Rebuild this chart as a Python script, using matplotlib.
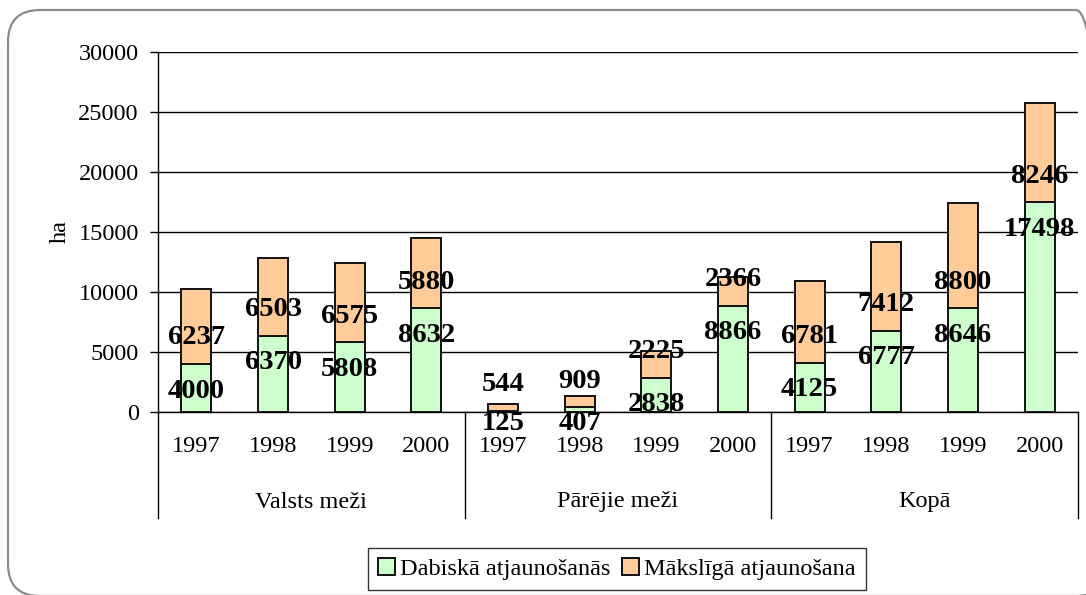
import numpy as np
import matplotlib
matplotlib.use('Agg')
import matplotlib.pyplot as plt
import matplotlib.patches as mpatches
from matplotlib.transforms import IdentityTransform, blended_transform_factory

# data
groups = ['Valsts meži', 'Pārējie meži', 'Kopā']
years = ['1997', '1998', '1999', '2000']
dabiska = [4000, 6370, 5808, 8632, 125, 407, 2838, 8866, 4125, 6777, 8646, 17498]
makslīga = [6237, 6503, 6575, 5880, 544, 909, 2225, 2366, 6781, 7412, 8800, 8246]
series_names = ['Dabiskā atjaunošanās', 'Mākslīgā atjaunošana']
colors = ['#CCFFCC', '#FFCC99']

plt.rcParams['font.family'] = ['Liberation Serif', 'DejaVu Serif']

W, H = 1086, 595
FS = 17.5      # axis / legend text
FS_LAB = 20.5  # bold value labels

fig = plt.figure(figsize=(W / 100, H / 100), dpi=100)
ax = fig.add_axes([158 / W, (H - 412) / H, 920 / W, 360 / H])

x = np.arange(len(dabiska))
bw = 0.39
ax.bar(x, dabiska, width=bw, color=colors[0], edgecolor='#111111', linewidth=1.4,
       label=series_names[0], zorder=3)
ax.bar(x, makslīga, width=bw, bottom=dabiska, color=colors[1], edgecolor='#111111',
       linewidth=1.4, label=series_names[1], zorder=3)

ax.set_xlim(-0.5, len(x) - 0.5)
ax.set_ylim(0, 30000)
ax.set_yticks(np.arange(0, 30001, 5000))
ax.tick_params(axis='y', direction='out', length=5.8, width=1, pad=8, labelsize=FS)
ax.set_xticks([])
ax.grid(axis='y', color='black', linewidth=1, zorder=0)
ax.set_axisbelow(True)
for s in ['top', 'right']:
    ax.spines[s].set_visible(False)
ax.spines['left'].set_linewidth(1)
ax.spines['bottom'].set_linewidth(1)

# value labels, placed relative to the boundary between the two segments
px_per_unit = 360 / 30000
for i in x:
    g = dabiska[i]
    gpx = g * px_per_unit
    off_g = -min(27, gpx + 11)
    ax.annotate(str(dabiska[i]), (i, g), xytext=(0, off_g * 0.72), textcoords='offset points',
                ha='center', va='center', fontsize=FS_LAB, fontweight='bold', zorder=5,
                annotation_clip=False)
    ax.annotate(str(makslīga[i]), (i, g), xytext=(0, 26 * 0.72), textcoords='offset points',
                ha='center', va='center', fontsize=FS_LAB, fontweight='bold', zorder=5,
                annotation_clip=False)

# category axis: years, groups and separators
trans = blended_transform_factory(ax.transData, ax.transAxes)
for i in x:
    ax.text(i, -35 / 360, years[i % 4], transform=trans, ha='center', va='center', fontsize=FS)
for k, gname in enumerate(groups):
    ax.text(4 * k + 1.5, -90 / 360, gname, transform=trans, ha='center', va='center', fontsize=FS)
for xs in [-0.5, 3.5, 7.5, 11.5]:
    ax.plot([xs, xs], [0, -106 / 360], transform=trans, color='black', linewidth=1, clip_on=False)

fig.text(60 / W, 1 - 232 / H, 'ha', rotation=90, ha='center', va='center', fontsize=FS)

leg = fig.legend(loc='center', bbox_to_anchor=(617 / W, 1 - 569 / H), ncol=2, fontsize=FS,
                 frameon=True, fancybox=False, handlelength=0.7, handleheight=0.7,
                 handletextpad=0.2, columnspacing=0.5, borderpad=0.4, borderaxespad=0)
leg.get_frame().set_edgecolor('black')
leg.get_frame().set_linewidth(1)

# rounded outer border
border = mpatches.FancyBboxPatch((8, -1), 1100, H - 10 + 1,
                                 boxstyle='round,pad=0,rounding_size=32',
                                 transform=IdentityTransform(), facecolor='none',
                                 edgecolor='#8c8c8c', linewidth=1.6)
fig.add_artist(border)

fig.savefig('out.png', dpi=100)
